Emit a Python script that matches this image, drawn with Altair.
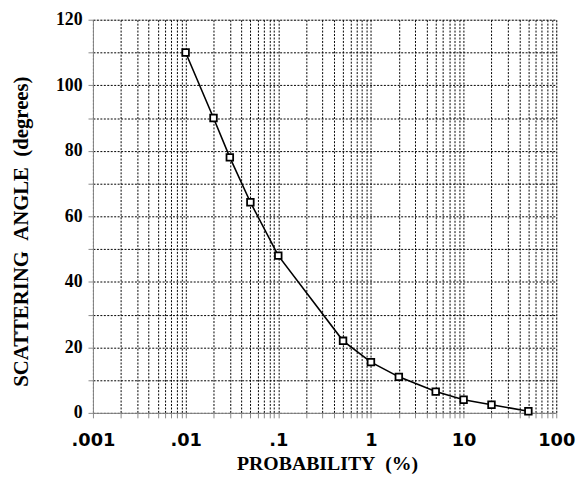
import altair as alt
import pandas as pd

# data
prob = [0.01, 0.02, 0.03, 0.05, 0.1, 0.5, 1, 2, 5, 10, 20, 50]
angle = [110, 90, 78, 64.3, 48, 22, 15.5, 11, 6.5, 4, 2.5, 0.5]

x_major = [0.001, 0.01, 0.1, 1, 10, 100]
x_major_labels = [".001", ".01", ".1", "1", "10", "100"]
y_ticks = list(range(0, 130, 10))

x_ticks = []
for k in range(-3, 2):
    for m in range(1, 10):
        x_ticks.append(round(m * 10 ** k, 6))
x_ticks.append(100)

df = pd.DataFrame({"prob": prob, "angle": angle})

label_expr = " : ".join(
    f"datum.value == {v} ? '{l}'" for v, l in zip(x_major, x_major_labels)
) + " : ''"

grid_style = dict(
    grid=True,
    gridColor="#000000",
    gridDash=[2, 1.5],
    gridWidth=1,
    gridOpacity=1,
)

x_enc = alt.X(
    "prob:Q",
    scale=alt.Scale(type="log", domain=[0.001, 100], nice=False),
    axis=alt.Axis(
        values=x_ticks,
        labelExpr=label_expr,
        title="PROBABILITY\u00a0\u00a0(%)",
        titleFont="Liberation Serif",
        titleFontSize=20,
        titleFontWeight="bold",
        titleX=237,
        titleY=51,
        titleBaseline="middle",
        labelFont="DejaVu Sans",
        labelFontSize=18,
        labelFontWeight="bold",
        labelPadding=14,
        tickSize=5,
        labelOverlap=False,
        labelFlush=False,
        **grid_style,
    ),
)
y_enc = alt.Y(
    "angle:Q",
    scale=alt.Scale(domain=[0, 120], nice=False),
    axis=alt.Axis(
        values=y_ticks,
        labelExpr="datum.value % 20 == 0 ? datum.label : ''",
        title="SCATTERING\u00a0\u00a0ANGLE\u00a0\u00a0(degrees)",
        titleFont="Liberation Serif",
        titleFontSize=21,
        titleFontWeight="bold",
        titleX=-72,
        titleY=214,
        titleBaseline="middle",
        titleAngle=270,
        labelFont="Liberation Serif",
        labelFontSize=18,
        labelFontWeight="bold",
        labelPadding=6,
        tickSize=5,
        labelOverlap=False,
        **grid_style,
    ),
)

line = alt.Chart(df).mark_line(
    color="black", strokeWidth=1.6
).encode(x=x_enc, y=y_enc)

pts = alt.Chart(df).mark_point(
    shape="square", size=45, filled=True, fill="white", stroke="black",
    strokeWidth=1.8, opacity=1
).encode(x=x_enc, y=y_enc)

chart = (
    alt.layer(line, pts)
    .properties(
        width=469,
        height=398,
        autosize=alt.AutoSizeParams(type="none"),
        padding={"left": 86, "top": 9, "right": 22, "bottom": 60},
    )
    .configure_view(stroke="black", strokeWidth=1.5)
    .configure_axis(
        domainColor="black",
        domainWidth=2,
        tickColor="black",
        tickWidth=1.5,
        labelColor="black",
        titleColor="black",
    )
    .configure(background="white")
)

chart.save("out.html", embed_options={"renderer": "svg", "actions": False})
